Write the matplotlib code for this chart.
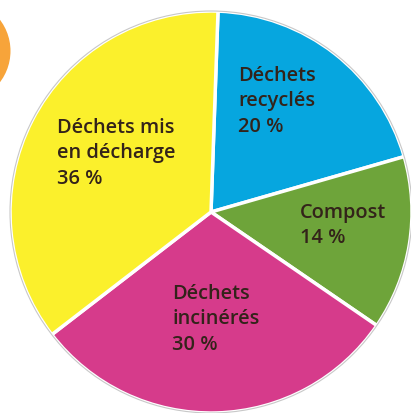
import matplotlib.pyplot as plt
from matplotlib.patches import Circle

# Part des déchets par mode de traitement
labels = ["Déchets\nrecyclés", "Compost", "Déchets\nincinérés", "Déchets mis\nen décharge"]
values = [20, 14, 30, 36]
colors = ["#06a6df", "#6ea43a", "#d63b8b", "#fbf02c"]

# label anchor (left x, top-line centre y) in pixels from top-left
label_pos = [(238, 75), (300, 212), (172, 293), (57, 127)]

W, H = 411, 414
fig = plt.figure(figsize=(W / 100, H / 100), dpi=100)
ax = fig.add_axes([0, 0, 1, 1])

ax.pie(values, colors=colors, startangle=88, counterclock=False,
       center=(211, H - 213), radius=201,
       wedgeprops=dict(edgecolor="white", linewidth=2.5))
ax.add_patch(Circle((211, H - 213), 201, fill=False, edgecolor="#c8c8c8", linewidth=0.8))

# orange marker in the corner
ax.add_patch(Circle((-41, H - 52), 51.5, color="#f7a43a", linewidth=0))

for lab, v, (x, y) in zip(labels, values, label_pos):
    ax.text(x, H - y + 9, f"{lab}\n{v} %", ha="left", va="top",
            fontsize=14.4, fontweight="semibold", family="Open Sans",
            color="#33231a", linespacing=1.36)

ax.set_xlim(0, W)
ax.set_ylim(0, H)
ax.set_aspect("equal")
ax.axis("off")

fig.savefig("out.png", dpi=100)
